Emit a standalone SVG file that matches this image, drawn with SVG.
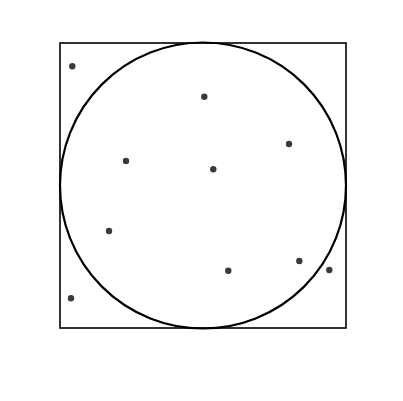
<svg xmlns="http://www.w3.org/2000/svg" width="403" height="401" viewBox="0 0 403 401">
<style>
.frame{fill:none;stroke:#000;stroke-width:1.6}
.circ{fill:none;stroke:#000;stroke-width:2.2}
.pt{fill:#3a3a3a}
</style>
<rect width="403" height="401" fill="#fff"/>
<g id="square"><rect class="frame" x="60" y="43" width="286" height="285"/></g>
<g id="circle"><circle class="circ" cx="203" cy="185.5" r="143"/></g>
<g id="points">
<circle class="pt" cx="72.3" cy="66.3" r="3.2"/>
<circle class="pt" cx="204.3" cy="96.7" r="3.2"/>
<circle class="pt" cx="289" cy="144" r="3.2"/>
<circle class="pt" cx="126" cy="161" r="3.2"/>
<circle class="pt" cx="213.3" cy="169.3" r="3.2"/>
<circle class="pt" cx="109" cy="231" r="3.2"/>
<circle class="pt" cx="299.3" cy="261" r="3.2"/>
<circle class="pt" cx="228.3" cy="270.7" r="3.2"/>
<circle class="pt" cx="329.3" cy="270" r="3.2"/>
<circle class="pt" cx="71" cy="298.3" r="3.2"/>
</g>
</svg>
